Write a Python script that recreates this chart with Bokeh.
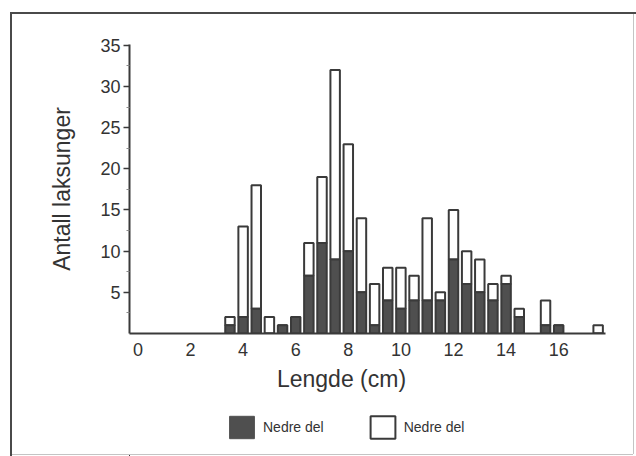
from bokeh.plotting import figure
from bokeh.layouts import column
from bokeh.models import (ColumnDataSource, FixedTicker, Legend, LegendItem, Label,
                          Range1d)
from bokeh.core.properties import value
from bokeh.embed import file_html
from bokeh.resources import INLINE

# ---- data ----
lengths = [3.5, 4, 4.5, 5, 5.5, 6, 6.5, 7, 7.5, 8, 8.5, 9, 9.5, 10, 10.5,
           11, 11.5, 12, 12.5, 13, 13.5, 14, 14.5, 15.5, 16, 17.5]
dark = [1, 2, 3, 0, 1, 2, 7, 11, 9, 10, 5, 1, 4, 3, 4,
        4, 4, 9, 6, 5, 4, 6, 2, 1, 1, 0]
total = [2, 13, 18, 2, 1, 2, 11, 19, 32, 23, 14, 6, 8, 8, 7,
         14, 5, 15, 10, 9, 6, 7, 3, 4, 1, 1]
x_ticks = [0, 2, 4, 6, 8, 10, 12, 14, 16]
y_ticks = [5, 10, 15, 20, 25, 30, 35]
y_minor = [2.5, 7.5, 12.5, 17.5, 22.5, 27.5, 32.5]
x_title = "Lengde (cm)"
y_title = "Antall laksunger"
legend_labels = ["Nedre del", "Nedre del"]

FONT = "Liberation Sans"
DARK = "#4f4f4f"
OUT = "#3a3a3a"
TXT = "#333333"

src = ColumnDataSource(dict(x=lengths, dark=dark, total=total))

# ---- main chart ----
p = figure(width=636, height=366, x_range=Range1d(-0.32, 17.78),
           y_range=Range1d(0, 35.1), output_backend="svg",
           toolbar_location=None, min_border_left=129, min_border_right=31,
           min_border_top=44, min_border_bottom=33)
p.grid.visible = False
p.outline_line_color = None
p.background_fill_color = "white"
p.border_fill_color = None

p.vbar(x="x", width=0.36, bottom="dark", top="total", source=src,
       fill_color="white", line_color=OUT, line_width=2)
p.vbar(x="x", width=0.36, bottom=0, top="dark", source=src,
       fill_color=DARK, line_color=OUT, line_width=2)

xa = p.xaxis[0]
xa.ticker = FixedTicker(ticks=x_ticks)
xa.major_tick_out = 0
xa.major_tick_in = 0
xa.minor_tick_out = 0
xa.minor_tick_in = 0
xa.axis_line_color = OUT
xa.axis_line_width = 2
xa.major_label_standoff = 9
xa.major_label_text_font = FONT
xa.major_label_text_font_size = "18px"
xa.major_label_text_color = TXT

ya = p.yaxis[0]
ya.ticker = FixedTicker(ticks=y_ticks, minor_ticks=y_minor)
ya.major_tick_out = 6
ya.major_tick_in = 0
ya.minor_tick_out = 3
ya.minor_tick_in = 0
ya.major_tick_line_color = OUT
ya.major_tick_line_width = 1.5
ya.minor_tick_line_color = "#888888"
ya.axis_line_color = OUT
ya.axis_line_width = 2
ya.major_label_standoff = 3
ya.major_label_text_font = FONT
ya.major_label_text_font_size = "18px"
ya.major_label_text_color = TXT
ya.axis_label = y_title
ya.axis_label_text_font = FONT
ya.axis_label_text_font_size = "23px"
ya.axis_label_text_font_style = "normal"
ya.axis_label_text_color = TXT
ya.axis_label_standoff = 22

# ---- lower strip: x title + legend (frame aligned with the chart's frame) ----
# ranges are offset far away so the swatch renderers' data never shows here
q = figure(width=636, height=90, x_range=Range1d(1129, 1605),
           y_range=Range1d(1000, 1090),
           output_backend="svg", toolbar_location=None,
           x_axis_type=None, y_axis_type=None,
           min_border_left=0, min_border_right=0, min_border_top=0, min_border_bottom=0)
q.grid.visible = False
q.outline_line_color = None
q.background_fill_color = None
q.border_fill_color = None

sw_dark = q.vbar(x="x", top="dark", width=0.36, source=src,
                 fill_color=DARK, line_color=DARK, line_width=1)
sw_white = q.vbar(x="x", top="total", width=0.36, source=src,
                  fill_color="white", line_color=OUT, line_width=2)

q.add_layout(Label(x=1341, y=1078, text=x_title, text_align="center",
                   text_baseline="alphabetic", text_font=FONT,
                   text_font_size="23px", text_color=TXT))

leg = Legend(items=[LegendItem(label=value(legend_labels[0]), renderers=[sw_dark]),
                    LegendItem(label=value(legend_labels[1]), renderers=[sw_white])],
             orientation="horizontal", location=(97, 15),
             glyph_width=31, glyph_height=28, label_standoff=6, spacing=43,
             padding=0, margin=0, border_line_color=None,
             background_fill_alpha=0, label_text_font=FONT,
             label_text_font_size="14px", label_text_color=TXT)
q.add_layout(leg, "center")

layout = column(p, q, spacing=0, styles={
    "background-color": "white",
    "background-image": ", ".join(["linear-gradient(#4a4a4a, #4a4a4a)"] * 2 +
                                  ["linear-gradient(#c4c4c4, #c4c4c4)"] * 2),
    "background-size": "626px 2px, 2px 444px, 1px 442px, 623px 1px",
    "background-position": "10px 12px, 10px 12px, 633px 12px, 10px 454px",
    "background-repeat": "no-repeat",
})

open("out.html", "w").write(file_html(layout, INLINE))
